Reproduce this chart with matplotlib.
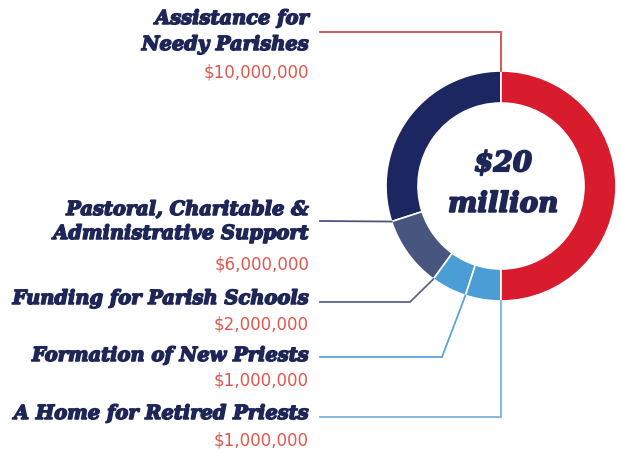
import numpy as np
import matplotlib.pyplot as plt
import matplotlib.patheffects as pe

# Datos del gráfico (millones de dólares)
categorias = ['Pastoral, Charitable &\nAdministrative Support',
              'Funding for Parish Schools',
              'Formation of New Priests',
              'A Home for Retired Priests',
              'Assistance for\nNeedy Parishes']
valores = [6, 2, 1, 1, 10]
montos = ['$6,000,000', '$2,000,000', '$1,000,000', '$1,000,000', '$10,000,000']
total_texto = '$20\nmillion'

colores = ['#1c2660', '#48557f', '#4b9dd6', '#4b9dd6', '#d81c2e']
colores_linea = ['#4a5580', '#5a6590', '#5ea3d8', '#7ab3de', '#d04a4a']

W, H = 621, 454
NAVY = '#1d2657'
ROJO = '#e0574f'

def Y(py):
    # pasar coordenada de pixel (desde arriba) a coordenada de datos
    return H - py

fig = plt.figure(figsize=(W / 100, H / 100), dpi=100)
ax = fig.add_axes([0, 0, 1, 1])

cx, cy, r_ext, ancho = 501, 186, 115, 32
ax.pie(valores, colors=colores, startangle=90, counterclock=True,
       radius=r_ext, center=(cx, Y(cy)),
       wedgeprops=dict(width=ancho, edgecolor='white', linewidth=1.2))

ax.set_xlim(0, W)
ax.set_ylim(0, H)
ax.set_aspect('equal')
ax.axis('off')

# ángulo final de cada segmento (donde se engancha la línea guía)
fin_ang = 90 + np.cumsum(valores) / sum(valores) * 360

def punto(ang):
    a = np.radians(ang)
    return cx + r_ext * np.cos(a), cy - r_ext * np.sin(a)

# posición de las etiquetas: (y nombre, y monto, y línea, x codo)
layout = {
    0: ([210, 234], 264, 221, None),
    1: ([299], 324, 302, 410),
    2: ([356], 381, 357, 442),
    3: ([414], 441, 417, None),
    4: ([19, 45], 72, 32, None),
}

x_txt = 309
x_ini = 320
grueso = [pe.withStroke(linewidth=1.1, foreground=NAVY)]
fuente_nombre = dict(family='DejaVu Serif', weight='bold', style='italic',
                     fontsize=14, color=NAVY, ha='right', va='center',
                     path_effects=grueso)

for i, nombre in enumerate(categorias):
    ys, y_monto, y_linea, x_codo = layout[i]
    for linea, yy in zip(nombre.split('\n'), ys):
        ax.text(x_txt, Y(yy), linea, **fuente_nombre)
    ax.text(x_txt, Y(y_monto), montos[i], family='DejaVu Sans', fontsize=12,
            color=ROJO, ha='right', va='center')

    px, py = punto(fin_ang[i])
    if i == 0:
        xs, yl = [x_ini, px], [y_linea, py]
    elif i in (3, 4):
        xs, yl = [x_ini, px, px], [y_linea, y_linea, py]
    else:
        xs, yl = [x_ini, x_codo, px], [y_linea, y_linea, py]
    ax.plot(xs, [Y(v) for v in yl], color=colores_linea[i], lw=1.3,
            solid_joinstyle='miter')

# texto central
ax.text(cx + 2, Y(cy - 2), total_texto, family='DejaVu Serif', weight='bold',
        style='italic', fontsize=20, color=NAVY, ha='center', va='center',
        linespacing=1.65, path_effects=[pe.withStroke(linewidth=1.3, foreground=NAVY)])

fig.savefig('out.png', dpi=100)
